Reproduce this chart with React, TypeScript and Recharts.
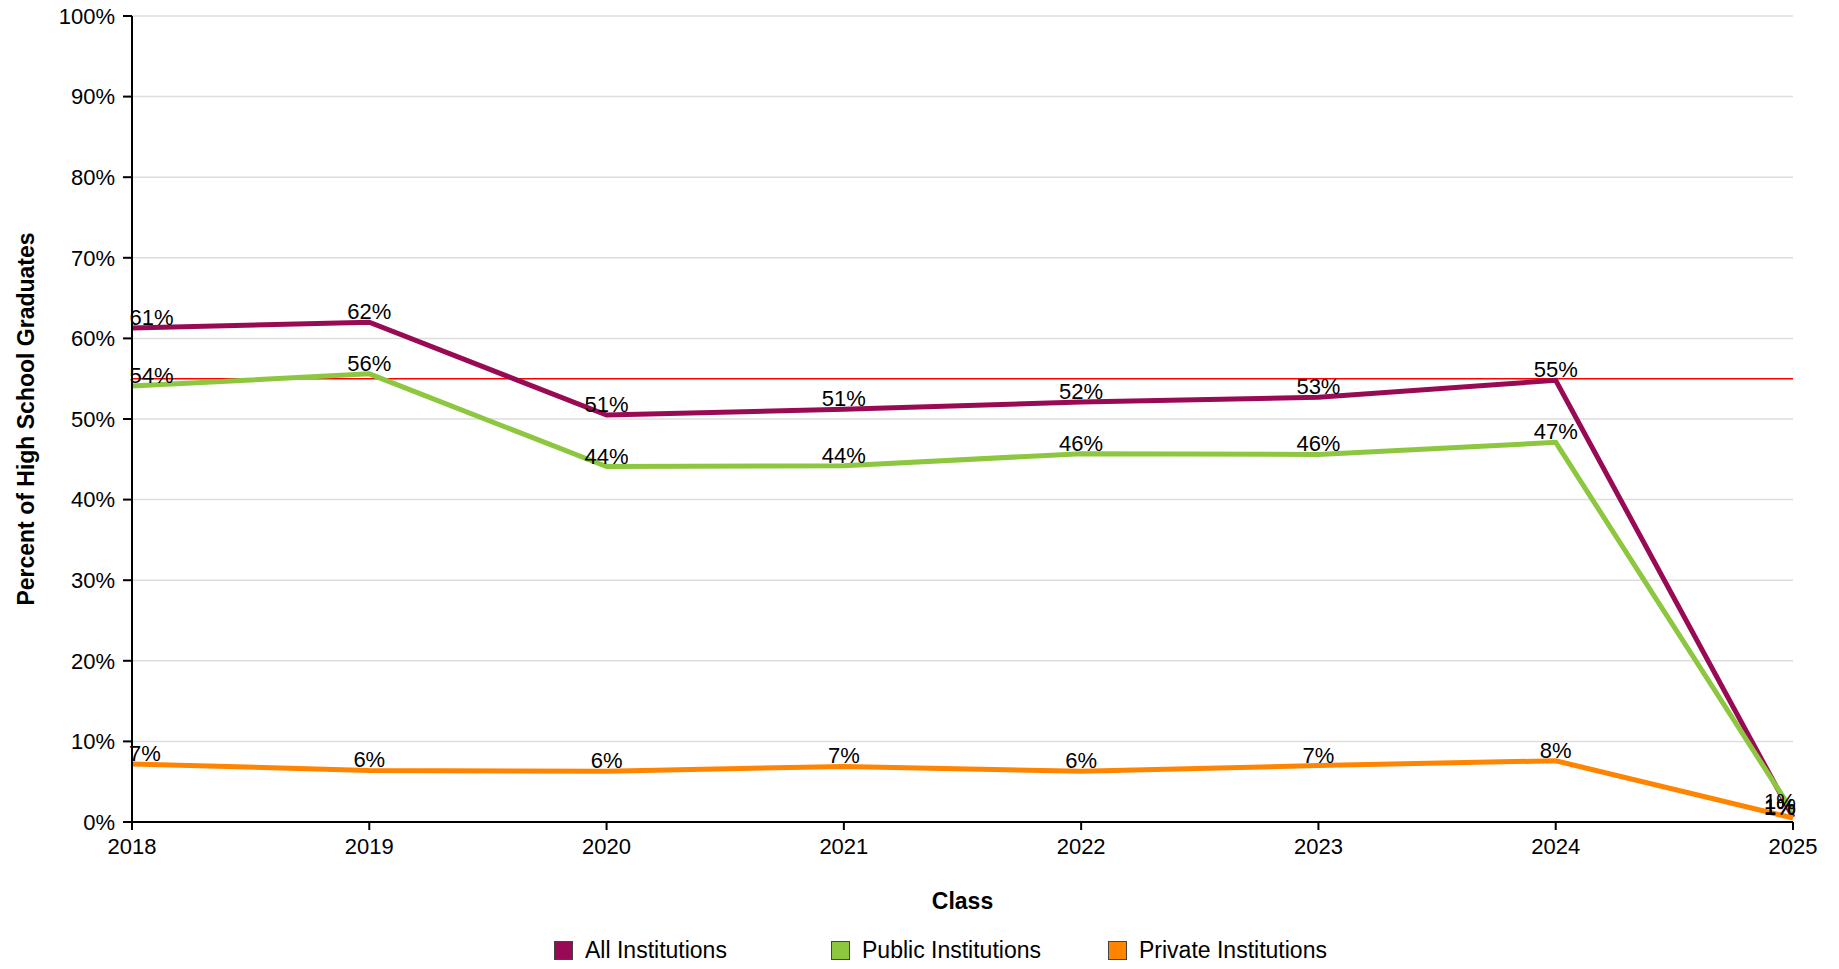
import React from "react";
import {
  LineChart,
  Line,
  XAxis,
  YAxis,
  CartesianGrid,
  ReferenceLine,
  LabelList,
  Legend,
} from "recharts";

const classes = ["2018", "2019", "2020", "2021", "2022", "2023", "2024", "2025"];
const allInst = [61.3, 62.0, 50.5, 51.2, 52.1, 52.7, 54.8, 0.6];
const publicInst = [54.1, 55.6, 44.1, 44.2, 45.7, 45.6, 47.1, 1.2];
const privateInst = [7.2, 6.4, 6.3, 6.9, 6.3, 7.0, 7.6, 0.5];
const yTicks = [0, 10, 20, 30, 40, 50, 60, 70, 80, 90, 100];
const benchmark = 55;

const series = [
  { key: "all", name: "All Institutions", color: "#990a55" },
  { key: "pub", name: "Public Institutions", color: "#8dc63f" },
  { key: "priv", name: "Private Institutions", color: "#ff8400" },
];

const data = classes.map((c, i) => ({
  cls: c,
  all: allInst[i],
  pub: publicInst[i],
  priv: privateInst[i],
}));

const font = "'Liberation Sans', Arial, sans-serif";
const PLOT_LEFT = 132;
const PLOT_RIGHT = 1793;

// 値ラベル: プロット領域からはみ出さないように左右を寄せる
const ValueLabel = (props: any) => {
  const { x = 0, y = 0, value } = props;
  const text = `${Math.round(value)}%`;
  const half = text.length * 6.5;
  let cx = x;
  if (cx - half < PLOT_LEFT) cx = PLOT_LEFT + half;
  if (cx + half > PLOT_RIGHT) cx = PLOT_RIGHT - half;
  return (
    <text x={cx} y={y - 3} textAnchor="middle" fontSize={22} fill="#000" fontFamily={font}>
      {text}
    </text>
  );
};

// 凡例: 色付きの四角とラベル
const LegendContent = () => (
  <div style={{ display: "flex", justifyContent: "center", paddingLeft: 146, paddingTop: 28, fontFamily: font, fontSize: 23 }}>
    {series.map((s) => (
      <div key={s.key} style={{ display: "flex", alignItems: "center", width: 277 }}>
        <span style={{ display: "inline-block", width: 17, height: 17, background: s.color, border: "1px solid #444", marginRight: 12 }} />
        {s.name}
      </div>
    ))}
  </div>
);

export default function App() {
  return (
    <div style={{ margin: -8, fontFamily: font }}>
      <LineChart width={1839} height={969} data={data} margin={{ top: 16, right: 46, left: 0, bottom: 0 }}>
        <CartesianGrid vertical={false} stroke="#dddddd" strokeWidth={1.5} />
        <XAxis
          dataKey="cls"
          height={87}
          tick={{ fontSize: 22, fill: "#000", fontFamily: font, dy: 6 }}
          axisLine={{ stroke: "#000", strokeWidth: 2 }}
          tickLine={{ stroke: "#000", strokeWidth: 2 }}
          tickSize={8}
          label={{ value: "Class", position: "insideBottom", offset: 0, fontSize: 23, fontWeight: 700, fill: "#000", fontFamily: font }}
        />
        <YAxis
          domain={[0, 100]}
          ticks={yTicks}
          width={132}
          tickFormatter={(v) => `${v}%`}
          tick={{ fontSize: 22, fill: "#000", fontFamily: font }}
          axisLine={{ stroke: "#000", strokeWidth: 2 }}
          tickLine={{ stroke: "#000", strokeWidth: 2 }}
          tickSize={9}
          tickMargin={8}
          label={{ value: "Percent of High School Graduates", angle: -90, position: "insideLeft", offset: 12, dx: 14, fontSize: 23, fontWeight: 700, fill: "#000", fontFamily: font, style: { textAnchor: "middle" } }}
        />
        <ReferenceLine y={benchmark} stroke="#ff0000" strokeWidth={1.5} />
        <Legend verticalAlign="bottom" height={60} content={<LegendContent />} />
        {series.map((s) => (
          <Line
            key={s.key}
            dataKey={s.key}
            name={s.name}
            stroke={s.color}
            strokeWidth={5}
            dot={false}
            type="linear"
            isAnimationActive={false}
          >
            <LabelList dataKey={s.key} content={<ValueLabel />} />
          </Line>
        ))}
      </LineChart>
    </div>
  );
}
